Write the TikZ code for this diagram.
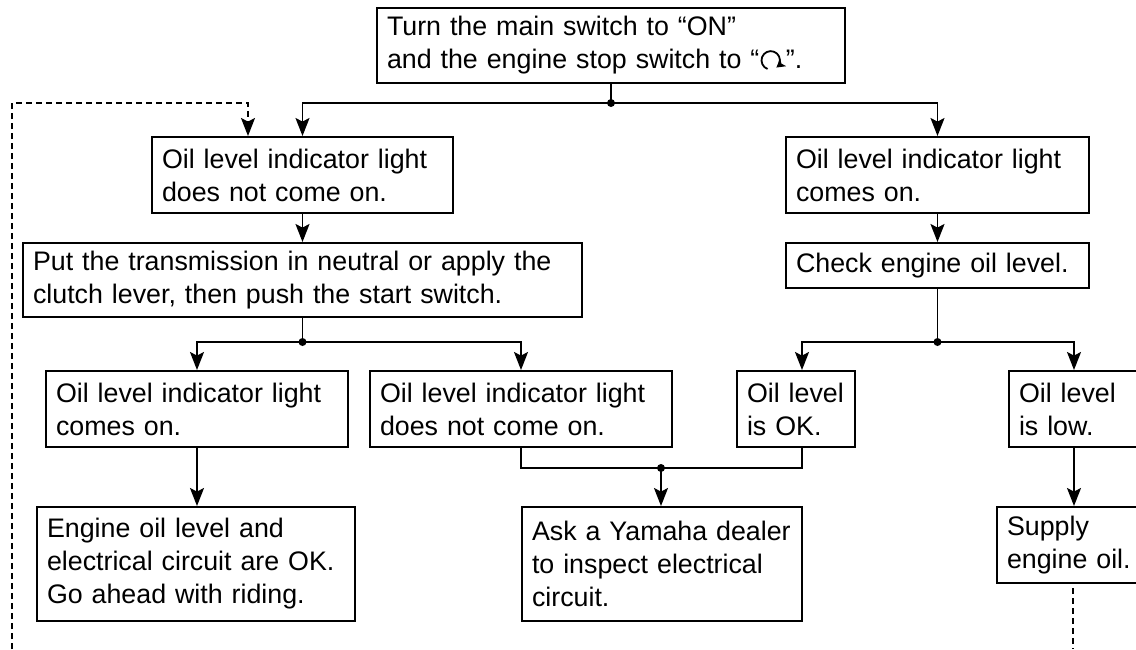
\documentclass[tikz,border=0pt]{standalone}
\usepackage{fontspec}
\setmainfont{Liberation Sans}
\usetikzlibrary{arrows.meta}
\newcommand{\runsym}{\tikz[x=1pt, y=1pt, baseline=-4.3pt]\draw[line width=0.9pt,-{Stealth[length=4.2pt,width=4.8pt,inset=1pt]}] (250:4.6) arc[start angle=250, end angle=-52, radius=4.6];}

\begin{document}
\begin{tikzpicture}[x=0.5pt, y=-0.5pt, >={Stealth[length=9pt, width=7pt, inset=1.8pt]},
  font=\fontsize{13.4pt}{16.5pt}\selectfont,
  blk/.style={draw, line width=1pt, align=left, inner xsep=5pt, inner ysep=2pt, minimum height=38pt},
  conn/.style={line width=0.9pt},
  backline/.style={line width=0.85pt, dash pattern=on 2.8pt off 2.2pt}]
\clip (0,0) rectangle (1136,649);
\node[blk, text width=224pt, minimum height=37.5pt] (start) at (611,45.5) {Turn the main switch to “ON”\\and the engine stop switch to “\runsym”.};
\node[blk, text width=140.5pt] (noLight)  at (302.5,175) {Oil level indicator light\\does not come on.};
\node[blk, text width=269.5pt, minimum height=37pt] (neutral) at (302.5,280) {Put the transmission in neutral or apply the\\clutch lever, then push the start switch.};
\node[blk, text width=141pt] (lightOn)  at (197,409) {Oil level indicator light\\comes on.};
\node[blk, text width=141pt] (stillOff) at (521,409) {Oil level indicator light\\does not come on.};
\node[blk, text width=149pt, minimum height=57pt] (allOK) at (196,564) {Engine oil level and\\electrical circuit are OK.\\Go ahead with riding.};
\node[blk, text width=130pt, minimum height=57pt] (dealer) at (662,564) {Ask a Yamaha dealer\\to inspect electrical\\circuit.};
\node[blk, text width=141.5pt] (rightOn) at (937.5,175) {Oil level indicator light\\comes on.};
\node[blk, text width=141.5pt, minimum height=22.5pt] (check) at (937.5,265.5) {Check engine oil level.};
\node[blk, text width=49pt]  (levelOK)  at (796,409)  {Oil level\\is OK.};
\node[blk, text width=55pt]  (levelLow) at (1074,409) {Oil level\\is low.};
\node[blk, text width=66pt]  (supply)   at (1073,545) {Supply\\engine oil.};
\coordinate (j1) at (611,103);
\coordinate (j2) at (302.5,342);
\coordinate (j3) at (937.5,342);
\coordinate (j4) at (661,468);
\coordinate (backIn) at (248,103);
\coordinate (backLeft) at (12,649);
\coordinate (supplyEnd) at (1073,649);
\draw[conn] (start.south) -- (j1);
\draw[conn, ->] (j1) -| (noLight.north);
\draw[conn, ->] (j1) -| (rightOn.north);
\draw[backline, ->] (backLeft) |- (backIn) -- (backIn |- noLight.north);
\draw[conn, ->] (noLight.south) -- (neutral.north);
\draw[conn] (neutral.south) -- (j2);
\draw[conn, ->] (j2) -| (lightOn.north);
\draw[conn, ->] (j2) -| (stillOff.north);
\draw[conn, ->] (lightOn.south) -- (lightOn.south |- allOK.north);
\draw[conn] (stillOff.south) |- (j4);
\draw[conn] ([xshift=3pt]levelOK.south) |- (j4);
\draw[conn, ->] (j4) -- (j4 |- dealer.north);
\draw[conn, ->] (rightOn.south) -- (check.north);
\draw[conn] (check.south) -- (j3);
\draw[conn, ->] (j3) -| ([xshift=3pt]levelOK.north);
\draw[conn, ->] (j3) -| (levelLow.north);
\draw[conn, ->] (levelLow.south) -- (levelLow.south |- supply.north);
\draw[backline] ([yshift=-2pt]supply.south) -- (supplyEnd);
\foreach \j in {j1, j2, j3, j4}
  \fill (\j) circle[radius=2pt];
\end{tikzpicture}
\end{document}
